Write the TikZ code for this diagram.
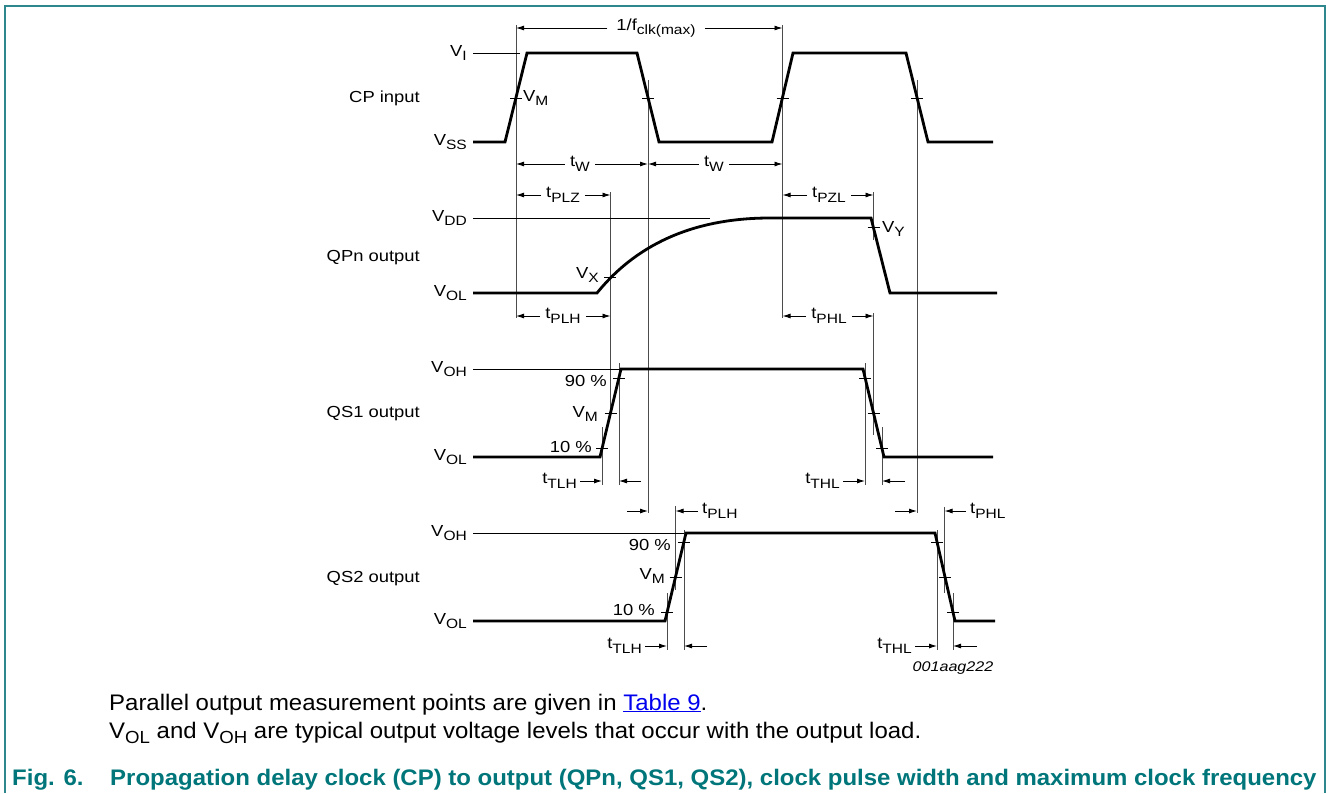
\documentclass[tikz,border=0pt]{standalone}
\usepackage{fontspec}
\setmainfont{Liberation Sans}
\newfontfamily\dfont[FakeStretch=1.15]{Liberation Sans}
\newfontfamily\bfont[FakeStretch=1.065]{Liberation Sans}
\usetikzlibrary{arrows.meta,calc}
\definecolor{frameteal}{RGB}{45,135,140}
\definecolor{capteal}{RGB}{0,118,122}
\definecolor{linkblue}{RGB}{0,0,238}
\newcommand{\dsub}[1]{\raisebox{-4.5pt}{\fontsize{13.5}{14}\selectfont #1}}
\newcommand{\bsub}[1]{\raisebox{-5.5pt}{\fontsize{17.5}{19}\selectfont #1}}
\newcommand{\tickh}[2]{\draw[tk] ({#1-6},#2) -- ({#1+6},#2);}
\begin{document}
\begin{tikzpicture}[x=1pt,y=-1pt,
  wave/.style={line width=2.8pt, line join=miter},
  refl/.style={line width=0.9pt},
  guide/.style={line width=0.9pt, draw=black!70},
  tk/.style={line width=0.9pt},
  dim/.style={line width=0.9pt, -{Latex[length=8pt,width=5pt]}},
  lab/.style={font=\dfont\fontsize{16}{18}\selectfont, inner sep=0pt},
  bodytext/.style={font=\bfont\fontsize{22.5}{26}\selectfont, inner sep=0pt, anchor=base west},
  figcap/.style={font=\bfont\bfseries\fontsize{22.5}{26}\selectfont, text=capteal, inner sep=0pt, anchor=base west}]
\useasboundingbox (0,0) rectangle (1326,793);
% frame
\draw[frameteal, line width=1.6pt] (5,793) -- (5,6) -- (1325,6) -- (1325,793);

% guide lines
\draw[guide] (516,25) -- (516,318);
\draw[guide] (782.5,25) -- (782.5,318);
\draw[guide] (648,80) -- (648,513);
\draw[guide] (917,80) -- (917,513);
\draw[guide] (610.5,192) -- (610.5,418);
\draw[guide] (873.5,192) -- (873.5,240);
\draw[guide] (873.5,313) -- (873.5,435);
\draw[guide] (602,427) -- (602,485);
\draw[guide] (619,363) -- (619,485);
\draw[guide] (865,363) -- (865,485);
\draw[guide] (882,427) -- (882,485);
\draw[guide] (675.5,506) -- (675.5,590);
\draw[guide] (667,593) -- (667,650);
\draw[guide] (684,530) -- (684,650);
\draw[guide] (937,530) -- (937,650);
\draw[guide] (944.5,507) -- (944.5,593);
\draw[guide] (953,593) -- (953,650);

% reference level lines
\draw[refl] (473,53) -- (520,53);
\draw[refl] (473,218) -- (710,218);
\draw[refl] (473,369) -- (620,369);
\draw[refl] (473,533) -- (684,533);

% waveforms
\draw[wave] (473,142) -- (505,142) -- (527,53) -- (637,53) -- (659,142) -- (772,142) -- (793,53) -- (906,53) -- (928,142) -- (993,142);
\draw[wave] (473,293) -- (597,293) .. controls (640,240) and (700,218) .. (770,218) -- (871,218) -- (890,293) -- (997,293);
\draw[wave] (473,457) -- (600,457) -- (621,369) -- (863,369) -- (884,457) -- (993,457);
\draw[wave] (473,621) -- (665,621) -- (686,533) -- (935,533) -- (955,621) -- (995,621);

% ticks
\tickh{516}{98} \tickh{648}{98} \tickh{782.5}{98} \tickh{917}{98}
\tickh{610}{277} \tickh{873.5}{227}
\tickh{602}{448} \tickh{610.5}{413} \tickh{619}{378}
\tickh{865}{378} \tickh{873.5}{413} \tickh{882}{448}
\tickh{667}{612} \tickh{675.5}{577} \tickh{684}{542}
\tickh{937}{542} \tickh{945}{577} \tickh{953}{612}

% level labels
\node[lab, anchor=east] (vi) at (467,53) {V\dsub{I}};
\node[lab, anchor=east] (vss) at (467,142) {V\dsub{SS}};
\node[lab, anchor=east] (vdd) at (467,218) {V\dsub{DD}};
\node[lab, anchor=east] (vol1) at (467,293) {V\dsub{OL}};
\node[lab, anchor=east] (voh2) at (467,369) {V\dsub{OH}};
\node[lab, anchor=east] (vol2) at (467,457) {V\dsub{OL}};
\node[lab, anchor=east] (voh3) at (467,533) {V\dsub{OH}};
\node[lab, anchor=east] (vol3) at (467,621) {V\dsub{OL}};

% signal names
\node[lab, anchor=east] (cp) at (420,98) {CP input};
\node[lab, anchor=east] (qpn) at (420,258) {QPn output};
\node[lab, anchor=east] (qs1) at (420,414) {QS1 output};
\node[lab, anchor=east] (qs2) at (420,579) {QS2 output};

% point labels
\node[lab, anchor=west] (vm0) at (523,98) {V\dsub{M}};
\node[lab, anchor=east] (vx) at (599,275) {V\dsub{X}};
\node[lab, anchor=west] (vy) at (882,229) {V\dsub{Y}};
\node[lab, anchor=east] (p90a) at (607,381) {90 \%};
\node[lab, anchor=east] (vma) at (598,414) {V\dsub{M}};
\node[lab, anchor=east] (p10a) at (592,447) {10 \%};
\node[lab, anchor=east] (p90b) at (671,545) {90 \%};
\node[lab, anchor=east] (vmb) at (665,576) {V\dsub{M}};
\node[lab, anchor=east] (p10b) at (655,610) {10 \%};

% dimension: 1/fclk(max)
\node[lab] (fclk) at (656,28) {1/f\dsub{clk(max)}};
\draw[dim] ($(fclk.west)+(-9,0)$) -- (fclk.west -| 516,0);
\draw[dim] ($(fclk.east)+(9,0)$) -- (fclk.east -| 782.5,0);
% tW
\node[lab] (tw1) at (580,164) {t\dsub{W}};
\draw[dim] ($(tw1.west)+(-5,0)$) -- (tw1.west -| 516,0);
\draw[dim] ($(tw1.east)+(5,0)$) -- (tw1.east -| 648,0);
\node[lab] (tw2) at (714,164) {t\dsub{W}};
\draw[dim] ($(tw2.west)+(-5,0)$) -- (tw2.west -| 648,0);
\draw[dim] ($(tw2.east)+(5,0)$) -- (tw2.east -| 782.5,0);
% tPLZ, tPLH
\node[lab] (tplz) at (563,195) {t\dsub{PLZ}};
\draw[dim] ($(tplz.west)+(-5,0)$) -- (tplz.west -| 516,0);
\draw[dim] ($(tplz.east)+(5,0)$) -- (tplz.east -| 610.5,0);
\node[lab] (tplha) at (563,316) {t\dsub{PLH}};
\draw[dim] ($(tplha.west)+(-5,0)$) -- (tplha.west -| 516,0);
\draw[dim] ($(tplha.east)+(5,0)$) -- (tplha.east -| 610.5,0);
% tPZL, tPHL
\node[lab] (tpzl) at (829,195) {t\dsub{PZL}};
\draw[dim] ($(tpzl.west)+(-5,0)$) -- (tpzl.west -| 782.5,0);
\draw[dim] ($(tpzl.east)+(5,0)$) -- (tpzl.east -| 873.5,0);
\node[lab] (tphla) at (829,316) {t\dsub{PHL}};
\draw[dim] ($(tphla.west)+(-5,0)$) -- (tphla.west -| 782.5,0);
\draw[dim] ($(tphla.east)+(5,0)$) -- (tphla.east -| 873.5,0);
% QS1 tTLH, tTHL
\node[lab, anchor=east] (ttlha) at (577,481) {t\dsub{TLH}};
\draw[dim] ($(ttlha.east)+(3,0)$) -- (ttlha.east -| 602,0);
\coordinate (ra) at (641,481);
\draw[dim] (ra) -- (ra -| 619,0);
\node[lab, anchor=east] (tthla) at (840,481) {t\dsub{THL}};
\draw[dim] ($(tthla.east)+(3,0)$) -- (tthla.east -| 865,0);
\coordinate (rb) at (905,481);
\draw[dim] (rb) -- (rb -| 882,0);
% QS2 tPLH, tPHL
\coordinate (rc) at (627,511);
\draw[dim] (rc) -- (rc -| 648,0);
\node[lab, anchor=west] (tplhb) at (702,511) {t\dsub{PLH}};
\draw[dim] ($(tplhb.west)+(-4,0)$) -- (tplhb.west -| 675.5,0);
\coordinate (rd) at (895,511);
\draw[dim] (rd) -- (rd -| 917,0);
\node[lab, anchor=west] (tphlb) at (970,511) {t\dsub{PHL}};
\draw[dim] ($(tphlb.west)+(-4,0)$) -- (tphlb.west -| 944.5,0);
% QS2 tTLH, tTHL
\node[lab, anchor=east] (ttlhb) at (642,646) {t\dsub{TLH}};
\draw[dim] ($(ttlhb.east)+(3,0)$) -- (ttlhb.east -| 667,0);
\coordinate (re) at (707,646);
\draw[dim] (re) -- (re -| 684,0);
\node[lab, anchor=east] (tthlb) at (912,646) {t\dsub{THL}};
\draw[dim] ($(tthlb.east)+(3,0)$) -- (tthlb.east -| 937,0);
\coordinate (rf) at (977,646);
\draw[dim] (rf) -- (rf -| 953,0);

% figure id
\node[font=\dfont\itshape\fontsize{14}{16}\selectfont, inner sep=0pt] (fid) at (953,668) {001aag222};

% notes
\node[bodytext] (n1) at (109,710) {Parallel output measurement points are given in {\color{linkblue}\underline{Table 9}}.};
\node[bodytext] (n2) at (109,738) {V\bsub{OL} and V\bsub{OH} are typical output voltage levels that occur with the output load.};
\node[figcap] (fig) at (12,785) {Fig. 6.};
\node[figcap] (figt) at (110,785) {Propagation delay clock (CP) to output (QPn, QS1, QS2), clock pulse width and maximum clock frequency};
\end{tikzpicture}
\end{document}
